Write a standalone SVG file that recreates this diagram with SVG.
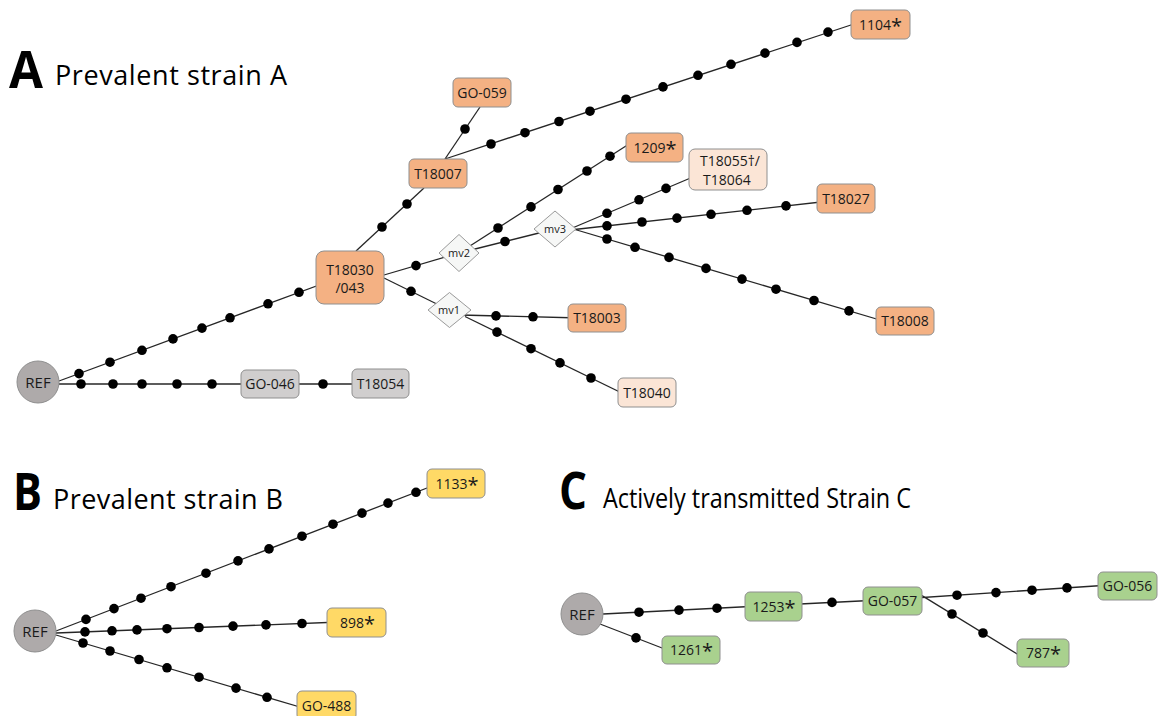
<svg xmlns="http://www.w3.org/2000/svg" width="1164" height="716" viewBox="0 0 1164 716">
<style>
.bg{fill:#ffffff}
.edge{stroke:#262626;stroke-width:1.3;fill:none}
.dot{fill:#000000}
.box{stroke:#8f8f8f;stroke-width:1}
.orange{fill:#f4b183}
.peach{fill:#fbe5d6}
.gray{fill:#d0cece}
.yellow{fill:#ffd966}
.green{fill:#a9d18e}
.ref{fill:#aeaaaa;stroke:#8f8f8f;stroke-width:1}
.mv{fill:#f6f7f6;stroke:#9a9a9a;stroke-width:1}
.lbl{font-family:"Open Sans","Liberation Sans",sans-serif;font-size:14px;fill:#1a1a1a;text-anchor:middle}
.lbls{font-family:"Open Sans","Liberation Sans",sans-serif;font-size:14px;fill:#1a1a1a}
.ast{font-size:20px}
.mvl{font-family:"Open Sans","Liberation Sans",sans-serif;font-size:11px;fill:#1a1a1a;text-anchor:middle}
.reft{font-family:"Open Sans","Liberation Sans",sans-serif;font-size:15px;fill:#1a1a1a;text-anchor:middle}
.big{font-family:"Open Sans","Liberation Sans",sans-serif;font-size:52px;font-weight:bold;fill:#000000}
.title{font-family:"Open Sans","Liberation Sans",sans-serif;font-size:27px;fill:#000000}
</style>
<rect class="bg" x="0" y="0" width="1164" height="716"/>

<g id="titles">
<text class="big" x="9" y="88" textLength="34" lengthAdjust="spacingAndGlyphs">A</text>
<text class="title" x="55" y="85" textLength="232" lengthAdjust="spacing">Prevalent strain A</text>
<text class="big" x="13" y="510" textLength="29" lengthAdjust="spacingAndGlyphs">B</text>
<text class="title" x="53" y="509" textLength="230" lengthAdjust="spacing">Prevalent strain B</text>
<text class="big" x="559" y="509" textLength="28" lengthAdjust="spacingAndGlyphs">C</text>
<text class="title" x="603" y="508" textLength="308" lengthAdjust="spacingAndGlyphs">Actively transmitted Strain C</text>
</g>

<g id="connectors">
<!-- Panel A -->
<line class="edge" x1="59" y1="381" x2="330" y2="281"/>
<line class="edge" x1="59" y1="384" x2="380" y2="384"/>
<line class="edge" x1="356" y1="251" x2="424" y2="188"/>
<line class="edge" x1="445" y1="159" x2="480" y2="107"/>
<line class="edge" x1="445" y1="159" x2="860" y2="22"/>
<line class="edge" x1="384" y1="275" x2="459" y2="253"/>
<line class="edge" x1="384" y1="278" x2="449" y2="310"/>
<line class="edge" x1="459" y1="253" x2="640" y2="137"/>
<line class="edge" x1="459" y1="253" x2="555" y2="229"/>
<line class="edge" x1="570" y1="229" x2="700" y2="174"/>
<line class="edge" x1="570" y1="230" x2="830" y2="201"/>
<line class="edge" x1="570" y1="228" x2="890" y2="323"/>
<line class="edge" x1="460" y1="315" x2="580" y2="318"/>
<line class="edge" x1="465" y1="316.5" x2="630" y2="397"/>
<!-- Panel B -->
<line class="edge" x1="56" y1="631" x2="440" y2="483"/>
<line class="edge" x1="56" y1="633" x2="340" y2="622"/>
<line class="edge" x1="56" y1="635" x2="310" y2="710"/>
<!-- Panel C -->
<line class="edge" x1="603" y1="614" x2="760" y2="606"/>
<line class="edge" x1="780" y1="605" x2="880" y2="600"/>
<line class="edge" x1="900" y1="599" x2="1110" y2="585"/>
<line class="edge" x1="922" y1="595.6" x2="1030" y2="661.8"/>
<line class="edge" x1="600" y1="624" x2="675" y2="653"/>

<g id="mutation-dots">
<circle class="dot" cx="79" cy="373.6" r="4.8"/>
<circle class="dot" cx="110" cy="362.2" r="4.8"/>
<circle class="dot" cx="142" cy="350.3" r="4.8"/>
<circle class="dot" cx="173" cy="338.9" r="4.8"/>
<circle class="dot" cx="202" cy="328.1" r="4.8"/>
<circle class="dot" cx="230" cy="317.8" r="4.8"/>
<circle class="dot" cx="268" cy="303.8" r="4.8"/>
<circle class="dot" cx="299" cy="292.3" r="4.8"/>
<circle class="dot" cx="81" cy="384" r="4.8"/>
<circle class="dot" cx="113" cy="384" r="4.8"/>
<circle class="dot" cx="142" cy="384" r="4.8"/>
<circle class="dot" cx="177" cy="384" r="4.8"/>
<circle class="dot" cx="212" cy="384" r="4.8"/>
<circle class="dot" cx="323" cy="384" r="4.8"/>
<circle class="dot" cx="382" cy="227" r="4.8"/>
<circle class="dot" cx="407" cy="204" r="4.8"/>
<circle class="dot" cx="465" cy="129" r="4.8"/>
<circle class="dot" cx="491" cy="144" r="4.8"/>
<circle class="dot" cx="525" cy="132.7" r="4.8"/>
<circle class="dot" cx="559" cy="121.5" r="4.8"/>
<circle class="dot" cx="590" cy="111.2" r="4.8"/>
<circle class="dot" cx="626" cy="99.2" r="4.8"/>
<circle class="dot" cx="663" cy="86.9" r="4.8"/>
<circle class="dot" cx="698" cy="75.3" r="4.8"/>
<circle class="dot" cx="731" cy="64.3" r="4.8"/>
<circle class="dot" cx="765" cy="53.1" r="4.8"/>
<circle class="dot" cx="797" cy="42.4" r="4.8"/>
<circle class="dot" cx="828" cy="32.1" r="4.8"/>
<circle class="dot" cx="416" cy="265.6" r="4.8"/>
<circle class="dot" cx="411" cy="291.3" r="4.8"/>
<circle class="dot" cx="498" cy="228" r="4.8"/>
<circle class="dot" cx="531" cy="206.9" r="4.8"/>
<circle class="dot" cx="558" cy="189.5" r="4.8"/>
<circle class="dot" cx="587" cy="171" r="4.8"/>
<circle class="dot" cx="610" cy="156.2" r="4.8"/>
<circle class="dot" cx="505" cy="241.5" r="4.8"/>
<circle class="dot" cx="607" cy="213.3" r="4.8"/>
<circle class="dot" cx="639" cy="199.8" r="4.8"/>
<circle class="dot" cx="666" cy="188.4" r="4.8"/>
<circle class="dot" cx="607" cy="225.9" r="4.8"/>
<circle class="dot" cx="642" cy="222" r="4.8"/>
<circle class="dot" cx="677" cy="218.1" r="4.8"/>
<circle class="dot" cx="711" cy="214.3" r="4.8"/>
<circle class="dot" cx="747" cy="210.3" r="4.8"/>
<circle class="dot" cx="786" cy="205.9" r="4.8"/>
<circle class="dot" cx="607" cy="239" r="4.8"/>
<circle class="dot" cx="635" cy="247.3" r="4.8"/>
<circle class="dot" cx="669" cy="257.4" r="4.8"/>
<circle class="dot" cx="706" cy="268.4" r="4.8"/>
<circle class="dot" cx="742" cy="279.1" r="4.8"/>
<circle class="dot" cx="776" cy="289.2" r="4.8"/>
<circle class="dot" cx="814" cy="300.5" r="4.8"/>
<circle class="dot" cx="849" cy="310.9" r="4.8"/>
<circle class="dot" cx="496" cy="315.9" r="4.8"/>
<circle class="dot" cx="533" cy="316.8" r="4.8"/>
<circle class="dot" cx="497" cy="332.1" r="4.8"/>
<circle class="dot" cx="531" cy="348.7" r="4.8"/>
<circle class="dot" cx="560" cy="362.9" r="4.8"/>
<circle class="dot" cx="591" cy="378" r="4.8"/>
<circle class="dot" cx="86" cy="619.4" r="4.8"/>
<circle class="dot" cx="114" cy="608.6" r="4.8"/>
<circle class="dot" cx="141" cy="598.2" r="4.8"/>
<circle class="dot" cx="171" cy="586.7" r="4.8"/>
<circle class="dot" cx="206" cy="573.2" r="4.8"/>
<circle class="dot" cx="238" cy="560.9" r="4.8"/>
<circle class="dot" cx="269" cy="548.9" r="4.8"/>
<circle class="dot" cx="302" cy="536.2" r="4.8"/>
<circle class="dot" cx="333" cy="524.2" r="4.8"/>
<circle class="dot" cx="362" cy="513.1" r="4.8"/>
<circle class="dot" cx="388" cy="503.1" r="4.8"/>
<circle class="dot" cx="416" cy="492.3" r="4.8"/>
<circle class="dot" cx="85" cy="631.9" r="4.8"/>
<circle class="dot" cx="112" cy="630.8" r="4.8"/>
<circle class="dot" cx="137" cy="629.9" r="4.8"/>
<circle class="dot" cx="167" cy="628.7" r="4.8"/>
<circle class="dot" cx="199" cy="627.5" r="4.8"/>
<circle class="dot" cx="233" cy="626.1" r="4.8"/>
<circle class="dot" cx="266" cy="624.9" r="4.8"/>
<circle class="dot" cx="302" cy="623.5" r="4.8"/>
<circle class="dot" cx="83" cy="643" r="4.8"/>
<circle class="dot" cx="110" cy="651" r="4.8"/>
<circle class="dot" cx="139" cy="659.5" r="4.8"/>
<circle class="dot" cx="167" cy="667.8" r="4.8"/>
<circle class="dot" cx="199" cy="677.2" r="4.8"/>
<circle class="dot" cx="236" cy="688.1" r="4.8"/>
<circle class="dot" cx="267" cy="697.3" r="4.8"/>
<circle class="dot" cx="639" cy="612.2" r="4.8"/>
<circle class="dot" cx="679" cy="610.1" r="4.8"/>
<circle class="dot" cx="717" cy="608.2" r="4.8"/>
<circle class="dot" cx="832" cy="602.4" r="4.8"/>
<circle class="dot" cx="957" cy="595.2" r="4.8"/>
<circle class="dot" cx="996" cy="592.6" r="4.8"/>
<circle class="dot" cx="1032" cy="590.2" r="4.8"/>
<circle class="dot" cx="1067" cy="587.9" r="4.8"/>
<circle class="dot" cx="952" cy="614" r="4.8"/>
<circle class="dot" cx="983" cy="633" r="4.8"/>
<circle class="dot" cx="636" cy="637.9" r="4.8"/>
</g>
</g>

<!-- Panel A nodes -->
<g id="node-A-REF"><circle class="ref" cx="38" cy="382" r="21"/><text class="reft" x="38" y="388">REF</text></g>
<g id="node-T18030"><rect class="box orange" x="316" y="251" width="68" height="53" rx="8"/><text class="lbl" x="350" y="275">T18030</text><text class="lbl" x="350" y="293">/043</text></g>
<g id="node-T18007"><rect class="box orange" x="409" y="159" width="58" height="29" rx="5"/><text class="lbl" x="438" y="178.5">T18007</text></g>
<g id="node-GO-059"><rect class="box orange" x="453" y="78" width="58" height="29" rx="5"/><text class="lbl" x="482" y="97.5">GO-059</text></g>
<g id="node-1104"><rect class="box orange" x="851" y="10" width="59" height="29" rx="5"/><text class="lbl" x="880.5" y="29.5">1104<tspan class="ast" dy="3">*</tspan></text></g>
<g id="node-1209"><rect class="box orange" x="626" y="133" width="57" height="29" rx="5"/><text class="lbl" x="655" y="152.5">1209<tspan class="ast" dy="3">*</tspan></text></g>
<g id="node-T18055-T18064"><rect class="box peach" x="689" y="149" width="78" height="41" rx="6"/><text class="lbls" x="700" y="166">T18055†/</text><text class="lbls" x="703" y="184.5">T18064</text></g>
<g id="node-T18027"><rect class="box orange" x="817" y="184" width="58" height="29" rx="5"/><text class="lbl" x="846" y="203.5">T18027</text></g>
<g id="node-T18008"><rect class="box orange" x="876" y="307" width="58" height="28" rx="5"/><text class="lbl" x="905" y="326">T18008</text></g>
<g id="node-T18003"><rect class="box orange" x="568" y="304" width="58" height="28" rx="5"/><text class="lbl" x="597" y="323">T18003</text></g>
<g id="node-T18040"><rect class="box peach" x="618" y="378" width="58" height="29" rx="5"/><text class="lbl" x="647" y="397.5">T18040</text></g>
<g id="node-GO-046"><rect class="box gray" x="241" y="370" width="58" height="28" rx="5"/><text class="lbl" x="270" y="389">GO-046</text></g>
<g id="node-T18054"><rect class="box gray" x="352" y="369" width="57" height="29" rx="5"/><text class="lbl" x="380.5" y="388.5">T18054</text></g>
<g id="node-mv2"><polygon class="mv" points="439,253 459,234.5 479,253 459,271.5"/><text class="mvl" x="459" y="257">mv2</text></g>
<g id="node-mv3"><polygon class="mv" points="534,229 555,211 576,229 555,247"/><text class="mvl" x="555" y="233">mv3</text></g>
<g id="node-mv1"><polygon class="mv" points="428,310 449.5,292.5 471,310 449.5,327.5"/><text class="mvl" x="449" y="314">mv1</text></g>

<!-- Panel B nodes -->
<g id="node-B-REF"><circle class="ref" cx="35" cy="631" r="21"/><text class="reft" x="35" y="637">REF</text></g>
<g id="node-1133"><rect class="box yellow" x="427" y="469" width="58" height="29" rx="5"/><text class="lbl" x="457" y="488.5">1133<tspan class="ast" dy="3">*</tspan></text></g>
<g id="node-898"><rect class="box yellow" x="327" y="608" width="59" height="29" rx="5"/><text class="lbl" x="357.5" y="627.5">898<tspan class="ast" dy="3">*</tspan></text></g>
<g id="node-GO-488"><rect class="box yellow" x="297" y="691" width="59" height="29" rx="5"/><text class="lbl" x="326.5" y="711">GO-488</text></g>

<!-- Panel C nodes -->
<g id="node-C-REF"><circle class="ref" cx="582" cy="614" r="21"/><text class="reft" x="582" y="620">REF</text></g>
<g id="node-1253"><rect class="box green" x="745" y="592" width="57" height="29" rx="5"/><text class="lbl" x="774" y="611.5">1253<tspan class="ast" dy="3">*</tspan></text></g>
<g id="node-GO-057"><rect class="box green" x="863" y="587" width="59" height="28" rx="5"/><text class="lbl" x="892.5" y="606">GO-057</text></g>
<g id="node-GO-056"><rect class="box green" x="1098" y="572" width="59" height="28" rx="5"/><text class="lbl" x="1127.5" y="591">GO-056</text></g>
<g id="node-787"><rect class="box green" x="1017" y="639" width="52" height="28" rx="5"/><text class="lbl" x="1043.5" y="658">787<tspan class="ast" dy="3">*</tspan></text></g>
<g id="node-1261"><rect class="box green" x="662" y="636" width="58" height="28" rx="5"/><text class="lbl" x="691.5" y="655">1261<tspan class="ast" dy="3">*</tspan></text></g>
</svg>
